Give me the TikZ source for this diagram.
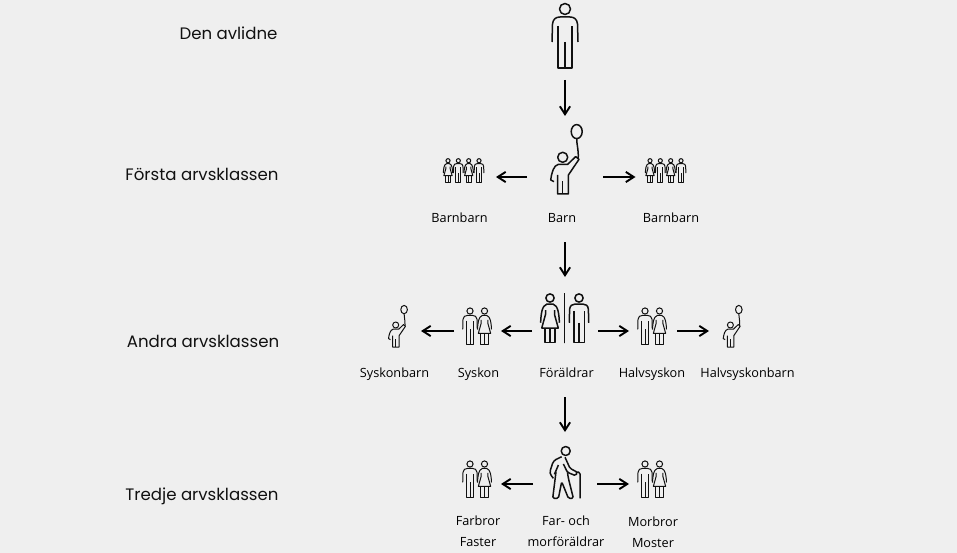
\documentclass[tikz,border=0pt]{standalone}
\usepackage{fontspec}
\setmainfont{Open Sans}
\newfontfamily\rowfont{Poppins}
\usepackage{xcolor}
\usepackage{tikz}
\usetikzlibrary{arrows.meta}
\definecolor{bgcol}{HTML}{EFEFEF}
\definecolor{inkcol}{HTML}{111111}

\tikzset{
  man/.pic={
    \draw (0,0) circle (5.5);
    \draw (-13,33) -- (-12.5,15) .. controls (-12,10) and (-9,8) .. (-5,8) -- (5,8) .. controls (9,8) and (12,10) .. (12.5,15) -- (13,33);
    \draw (-7,17) -- (-7,59) -- (7,59) -- (7,17);
    \draw (0,33) -- (0,59);
  },
  woman/.pic={
    \draw (0,0) circle (5.5);
    \draw (-12.5,33) .. controls (-12,22) and (-11,10) .. (-4,8) -- (4,8) .. controls (11,10) and (12,22) .. (12.5,33);
    \draw (-6,16) -- (-6,22) -- (-11,40) -- (11,40) -- (6,22) -- (6,16);
    \draw (-6.5,40) -- (-6.5,59) -- (6.5,59) -- (6.5,40);
    \draw (0,40) -- (0,59);
  },
  couple/.pic={
    \pic[scale=.56] at (0,0) {man};
    \pic[scale=.56] at (14.5,0) {woman};
  },
  family/.pic={
    \pic[scale=.373] at (0,0) {woman};
    \pic[scale=.373] at (10.3,0) {man};
    \pic[scale=.373] at (20.7,0) {woman};
    \pic[scale=.373] at (31,0) {man};
  },
  child/.pic={
    \draw (0,0) circle (5);
    \draw (14,-25.7) ellipse [x radius=5.5,y radius=7];
    \draw (14,-18.7) .. controls (14,-12) and (16,-8) .. (15.5,1);
    \draw (-8.7,24.3) -- (-12,22.7) .. controls (-11,15) and (-9,8) .. (-4.3,7) -- (5,7) -- (13,-.7) -- (16.3,2) -- (5.7,17.7) -- (5.7,36.7) -- (-5,36.7) -- (-5,17.7);
    \draw (0,24) -- (0,36.7);
  },
  oldman/.pic={
    \draw (0,0) circle (4.5);
    \draw[rounded corners=3pt] (-4,5.7) -- (-12.3,9.7) -- (-16.3,22.3) -- (-12.3,27.3);
    \draw (-7.3,14) -- (-11.3,23.3);
    \draw[rounded corners=1.5pt] (-.7,6.3) -- (4.3,17.3) -- (11.7,21.3) -- (10,24.7) -- (1.7,21.3) -- (-2.3,13);
    \draw[rounded corners=1.5pt] (-9.7,20.7) -- (-13,47.3) -- (-7.3,47.3) -- (-4,30.7) -- (2.7,47.3) -- (7.7,47.3) -- (2.7,27.3) -- (1.7,21.3);
    \draw (10.3,21.3) .. controls (12,20.5) and (14.3,21) .. (14.3,23) -- (14.3,47.3);
  },
}

\begin{document}
\begin{tikzpicture}[
  x=1pt, y=-1pt,
  hold/.style={minimum width=#1, inner sep=0pt, outer sep=0pt},
  rowlabel/.style={font=\rowfont\fontsize{16.6}{20}\selectfont, text=inkcol, text height=15pt, text depth=2pt},
  label/.style={font=\fontsize{12.7}{21}\selectfont, align=center, text=black},
  oneline/.style={label, text height=11pt, text depth=0pt},
  icon/.style={line width=1.5pt, draw=inkcol, line join=round},
  iconsmall/.style={line width=1pt, draw=inkcol, line join=round},
  arr/.style={-{Straight Barb[length=2.8mm,width=3.6mm,line width=1.9pt]}, line width=1.9pt, draw=black},
]
\fill[bgcol] (0,0) rectangle (957,553);
\useasboundingbox (0,0) rectangle (957,553);
% row titles
\node[rowlabel] (rowa) at (228.5,33)  {Den avlidne};
\node[rowlabel] (rowb) at (202,174)   {Första arvsklassen};
\node[rowlabel] (rowc) at (203,341)   {Andra arvsklassen};
\node[rowlabel] (rowd) at (202,494)   {Tredje arvsklassen};
% places that the arrows run between
\node[hold=26, minimum height=80]  (avlidne)  at (565,40)   {};
\node[hold=76, minimum height=122] (barn)     at (565,177)  {};
\node[hold=65, minimum height=30]  (bbleft)   at (463.5,177) {};
\node[hold=60, minimum height=30]  (bbright)  at (665.5,177) {};
\node[hold=66, minimum height=108] (foraldrar) at (565,331) {};
\node[hold=47, minimum height=30]  (syskon)   at (477.5,331) {};
\node[hold=46, minimum height=30]  (sbarn)    at (398,331)  {};
\node[hold=48, minimum height=30]  (halvs)    at (653,331)  {};
\node[hold=46, minimum height=30]  (halvsb)   at (732,331)  {};
\node[hold=64, minimum height=104] (farmor)   at (565,484)  {};
\node[hold=48, minimum height=30]  (farbror)  at (477,484)  {};
\node[hold=48, minimum height=30]  (morbror)  at (653,484)  {};
% icons
\pic[icon] at (565,9) {man};
\pic[icon] at (562.7,157.3) {child};
\pic[iconsmall] at (448,160.7) {family};
\pic[iconsmall] at (650,160.7) {family};
\pic[icon, scale=.75] at (550,298) {woman};
\pic[icon, scale=.75] at (579,298) {man};
\node[hold=0, minimum height=50, draw=inkcol, line width=1.4pt] (divider) at (564.5,318) {};
\pic[iconsmall] at (470,311) {couple};
\pic[iconsmall] at (645,311) {couple};
\pic[iconsmall, scale=.6] at (395.7,325) {child};
\pic[iconsmall, scale=.6] at (730.4,325) {child};
\pic[icon] at (565.7,451) {oldman};
\pic[iconsmall] at (470,464) {couple};
\pic[iconsmall] at (645,464) {couple};
% names
\node[oneline] (lbbl)  at (459.5,217) {Barnbarn};
\node[oneline] (lbarn) at (562,217)   {Barn};
\node[oneline] (lbbr)  at (671,217)   {Barnbarn};
\node[oneline] (lsb)   at (394.5,372) {Syskonbarn};
\node[oneline] (ls)    at (478.5,372) {Syskon};
\node[oneline] (lfor)  at (566.5,372) {Föräldrar};
\node[oneline] (lhs)   at (652,372)   {Halvsyskon};
\node[oneline] (lhsb)  at (747.5,372) {Halvsyskonbarn};
\node[label] (lfar)  at (478,531.5) {Farbror\\Faster};
\node[label] (lfm)   at (566,531.5) {Far- och\\morföräldrar};
\node[label] (lmor)  at (653,532.5) {Morbror\\Moster};
% arrows
\draw[arr] (avlidne) -- (barn);
\draw[arr, shorten <=4pt] (barn) -- (foraldrar);
\draw[arr, shorten <=12pt] (foraldrar) -- (farmor);
\draw[arr] (barn) -- (bbleft);
\draw[arr] (barn) -- (bbright);
\draw[arr] (foraldrar) -- (syskon);
\draw[arr] (syskon) -- (sbarn);
\draw[arr] (foraldrar) -- (halvs);
\draw[arr] (halvs) -- (halvsb);
\draw[arr] (farmor) -- (farbror);
\draw[arr] (farmor) -- (morbror);
\end{tikzpicture}
\end{document}
